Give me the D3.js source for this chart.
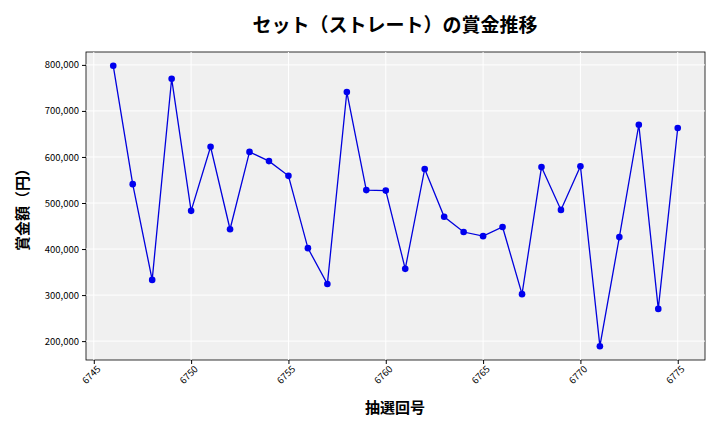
<!DOCTYPE html><html><head><meta charset="utf-8"><script src="https://cdn.jsdelivr.net/npm/d3@7"></script>
<style>body{margin:0;background:#fff}text{font-family:"Noto Sans CJK JP","DejaVu Sans",sans-serif}</style></head><body><svg id="c" width="720" height="432"></svg><script>
const draws=[6746,6747,6748,6749,6750,6751,6752,6753,6754,6755,6756,6757,6758,6759,6760,6761,6762,6763,6764,6765,6766,6767,6768,6769,6770,6771,6772,6773,6774,6775];
const prizes=[798000,541000,333000,770000,483000,622000,443000,611000,591000,559000,402000,324000,741000,528000,527000,357000,574000,470000,437000,428000,448000,302000,578000,485000,580000,189000,426000,670000,270000,663000];
const xTicks=[6745,6750,6755,6760,6765,6770,6775];
const yTicks=[200000,300000,400000,500000,600000,700000,800000];
const svg=d3.select("#c");
const L=86,R=705,T=52,B=360;
const x=d3.scaleLinear().domain([6744.6,6776.4]).range([L,R]);
const y=d3.scaleLinear().domain([159000,828000]).range([B,T]);
svg.append("rect").attr("x",L).attr("y",T).attr("width",R-L).attr("height",B-T).attr("fill","#f0f0f0").attr("stroke","#000").attr("stroke-width",0.8);
const g=svg.append("g");
xTicks.forEach(t=>g.append("line").attr("x1",x(t)).attr("x2",x(t)).attr("y1",T).attr("y2",B).attr("stroke","#fff").attr("stroke-width",1));
yTicks.forEach(t=>g.append("line").attr("x1",L).attr("x2",R).attr("y1",y(t)).attr("y2",y(t)).attr("stroke","#fff").attr("stroke-width",1));
const xa=svg.append("g").attr("transform",`translate(0,${B})`).call(d3.axisBottom(x).tickValues(xTicks).tickFormat(d3.format("d")).tickSize(4));
xa.select(".domain").remove();
xa.selectAll("text").attr("font-size",9.5).attr("text-anchor","end").attr("dx","-0.2em").attr("dy","0.5em").attr("transform","rotate(-45)");
const ya=svg.append("g").attr("transform",`translate(${L},0)`).call(d3.axisLeft(y).tickValues(yTicks).tickFormat(d3.format(",")).tickSize(4));
ya.select(".domain").remove();
ya.selectAll("text").attr("font-size",9.5);
svg.append("path").datum(draws.map((d,i)=>[d,prizes[i]])).attr("fill","none").attr("stroke","#0000dd").attr("stroke-width",1.3).attr("d",d3.line().x(d=>x(d[0])).y(d=>y(d[1])));
svg.selectAll("circle").data(prizes).join("circle").attr("cx",(d,i)=>x(draws[i])).attr("cy",d=>y(d)).attr("r",3.3).attr("fill","#0000ee");
svg.append("text").attr("x",395).attr("y",32).attr("text-anchor","middle").attr("font-size",19).attr("font-weight","bold").text("セット（ストレート）の賞金推移");
svg.append("text").attr("x",395).attr("y",413).attr("text-anchor","middle").attr("font-size",15).attr("font-weight","bold").text("抽選回号");
svg.append("text").attr("transform","translate(28,206) rotate(-90)").attr("text-anchor","middle").attr("font-size",15).attr("font-weight","bold").text("賞金額（円）");
</script></body></html>
